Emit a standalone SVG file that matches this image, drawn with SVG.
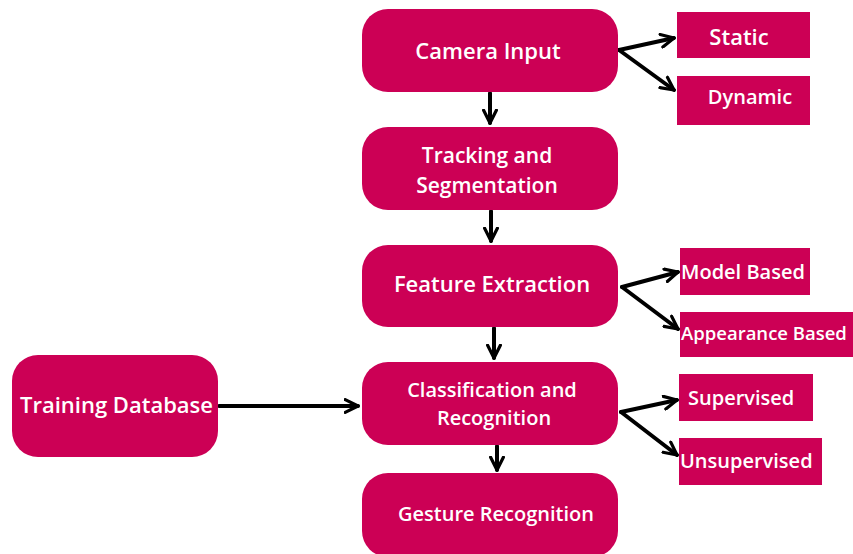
<svg xmlns="http://www.w3.org/2000/svg" width="853" height="554" viewBox="0 0 853 554">
<style>
.n{fill:#cc0055}
.t{font-family:"Open Sans","Liberation Sans",sans-serif;font-weight:600;fill:#fff;font-size:20px}
.l{font-size:22px}
.m{font-size:21px}
.s{font-size:18.5px}
.c{text-anchor:middle}
.e{stroke:#000;stroke-width:4;fill:none;stroke-linecap:round}
</style>
<defs>
<marker id="a" viewBox="0 0 10 10" refX="9" refY="5" markerWidth="4" markerHeight="4" orient="auto" markerUnits="strokeWidth">
<path d="M1,1 L9,5 L1,9" fill="none" stroke="#000" stroke-width="2" stroke-linecap="round" stroke-linejoin="round"/>
</marker>
</defs>
<rect width="853" height="554" fill="#fff"/>
<g id="connectors">
<path class="e" d="M490,93 V123" marker-end="url(#a)"/>
<path class="e" d="M491,211 V241" marker-end="url(#a)"/>
<path class="e" d="M494,328 V358" marker-end="url(#a)"/>
<path class="e" d="M497,446 V470" marker-end="url(#a)"/>
<path class="e" d="M619,50 L674,38" marker-end="url(#a)"/>
<path class="e" d="M619,50 L674,90" marker-end="url(#a)"/>
<path class="e" d="M622,287 L678,272" marker-end="url(#a)"/>
<path class="e" d="M622,287 L678,329" marker-end="url(#a)"/>
<path class="e" d="M621,412 L677,400" marker-end="url(#a)"/>
<path class="e" d="M621,412 L677,455" marker-end="url(#a)"/>
<path class="e" d="M219,406 L358,406" marker-end="url(#a)"/>
</g>
<g id="camera"><rect class="n" x="362" y="9" width="256" height="83" rx="26"/><text class="t l c" x="488" y="59">Camera Input</text></g>
<g id="static"><rect class="n" x="677" y="12" width="133" height="46"/><text class="t l c" x="739" y="45">Static</text></g>
<g id="dynamic"><rect class="n" x="677" y="76" width="133" height="49"/><text class="t c" x="750" y="104">Dynamic</text></g>
<g id="tracking"><rect class="n" x="362" y="127" width="256" height="83" rx="26"/><text class="t m c" x="487" y="163">Tracking and</text><text class="t m c" x="487" y="193">Segmentation</text></g>
<g id="feature"><rect class="n" x="362" y="245" width="256" height="82" rx="26"/><text class="t l c" x="492" y="292">Feature Extraction</text></g>
<g id="model"><rect class="n" x="680" y="248" width="130" height="47"/><text class="t" x="681" y="279">Model Based</text></g>
<g id="appearance"><rect class="n" x="680" y="312" width="173" height="45"/><text class="t s" x="681" y="340">Appearance Based</text></g>
<g id="classification"><rect class="n" x="362" y="362" width="256" height="83" rx="26"/><text class="t c" x="492" y="397">Classification and</text><text class="t c" x="494" y="425">Recognition</text></g>
<g id="supervised"><rect class="n" x="679" y="374" width="134" height="47"/><text class="t" x="688" y="405">Supervised</text></g>
<g id="unsupervised"><rect class="n" x="679" y="438" width="143" height="47"/><text class="t" x="680" y="468">Unsupervised</text></g>
<g id="training"><rect class="n" x="12" y="355" width="206" height="102" rx="26"/><text class="t l" x="20" y="413">Training Database</text></g>
<g id="gesture"><rect class="n" x="362" y="473" width="256" height="84" rx="26"/><text class="t c" x="496" y="521">Gesture Recognition</text></g>
</svg>
